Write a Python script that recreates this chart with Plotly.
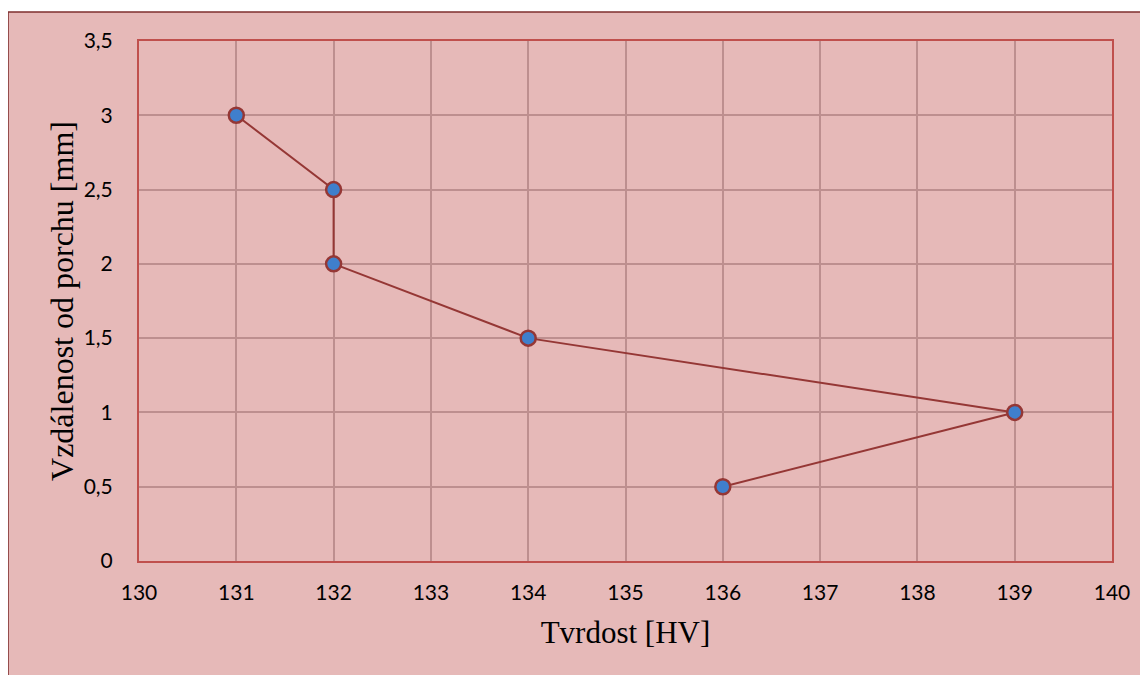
import plotly.graph_objects as go

# tvrdost vs. vzdalenost od povrchu
tvrdost_hv = [136, 139, 134, 132, 132, 131]
vzdalenost_mm = [0.5, 1, 1.5, 2, 2.5, 3]

x_ticks = list(range(130, 141))
y_ticks = [0, 0.5, 1, 1.5, 2, 2.5, 3, 3.5]

bg = '#E6B9B8'
line_col = '#953735'

fig = go.Figure()
fig.add_trace(go.Scatter(
    x=tvrdost_hv,
    y=vzdalenost_mm,
    mode='lines+markers',
    line=dict(color=line_col, width=2),
    marker=dict(size=15, color='#3F7FCC', line=dict(color=line_col, width=2.5)),
    showlegend=False,
))

# page body has an 8px margin, so the figure is shrunk by 8px
fig.update_layout(
    width=1140, height=667,
    margin=dict(l=131, r=36, t=33, b=114),
    paper_bgcolor='white',
    plot_bgcolor='rgba(0,0,0,0)',
    separators=', ',
    font=dict(family='Lato, Liberation Sans, sans-serif', size=21, color='black'),
    shapes=[dict(
        type='rect', xref='paper', yref='paper',
        x0=-0.1346, x1=1.06, y0=-0.25, y1=1.0558,
        fillcolor=bg, line=dict(color='#7F2F2E', width=1.5), layer='below',
    )],
)

fig.update_xaxes(
    range=[130, 140], tickvals=x_ticks,
    showgrid=True, gridcolor='#BD8F8F', gridwidth=1.5,
    showline=True, linecolor='#C0504D', linewidth=2, mirror=True,
    zeroline=False, ticks='', ticklabelstandoff=12,
    title=dict(text='Tvrdost [HV]', font=dict(family='Liberation Serif, serif', size=31), standoff=18),
)
fig.update_yaxes(
    range=[0, 3.5], tickvals=y_ticks,
    showgrid=True, gridcolor='#BD8F8F', gridwidth=1.5,
    showline=True, linecolor='#C0504D', linewidth=2, mirror=True,
    zeroline=False, ticks='', ticklabelstandoff=20,
    title=dict(text='Vzdálenost od porchu [mm]', font=dict(family='Liberation Serif, serif', size=32), standoff=0),
)

fig.write_html("out.html")
